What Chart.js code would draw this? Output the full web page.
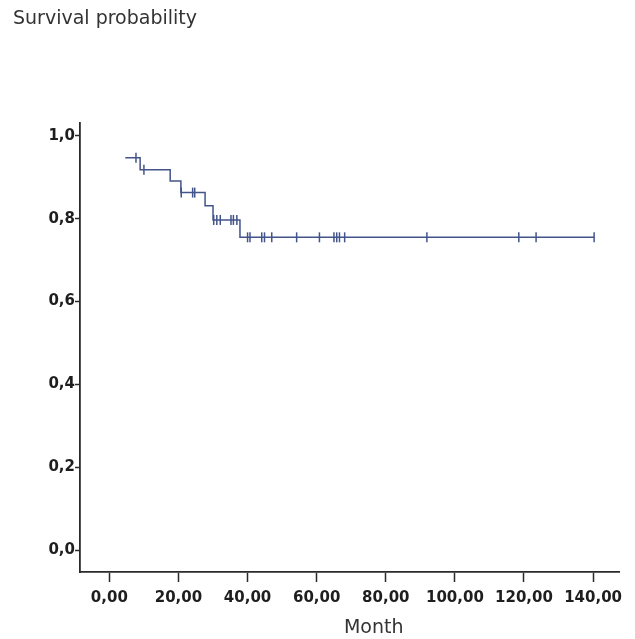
<!DOCTYPE html>
<html>
<head>
<meta charset="utf-8">
<script src="https://cdn.jsdelivr.net/npm/chart.js@4"></script>
<style>
  html, body { margin: 0; padding: 0; background: #fff; }
  #wrap { width: 635px; height: 639px; }
</style>
</head>
<body>
<div id="wrap"><canvas id="kmChart" width="635" height="639"></canvas></div>
<script>
// Kaplan-Meier steps (month of event, survival after it)
const eventMonths = [4.6, 8.9, 17.6, 20.7, 27.7, 30.0, 37.8];
const survival = [0.947, 0.918, 0.891, 0.863, 0.831, 0.797, 0.755];
// censored cases (month)
const censorMonths = [7.7, 10.0, 20.8, 24.1, 24.7, 30.2, 31.1, 32.1, 35.2, 35.9, 36.9,
  40.0, 40.7, 44.1, 44.9, 47.0, 54.2, 60.8, 65.0, 65.8, 66.6, 68.1, 91.9, 118.5, 123.5, 140.3];
const xTicks = [0, 20, 40, 60, 80, 100, 120, 140];
const yTicks = [0, 0.2, 0.4, 0.6, 0.8, 1.0];

// survival level at a given month (step function)
function levelAt(t) {
  let s = survival[0];
  for (let i = 0; i < eventMonths.length; i++) {
    if (eventMonths[i] <= t) s = survival[i];
  }
  return s;
}

const lastMonth = censorMonths[censorMonths.length - 1];
const stepPoints = eventMonths.map((m, i) => ({ x: m, y: survival[i] }));
stepPoints.push({ x: lastMonth, y: levelAt(lastMonth) });
const censorPoints = censorMonths.map((m) => ({ x: m, y: levelAt(m) }));

const lineColor = "#43548a";
const axisColor = "#2a2a2a";
const tickFont = { family: "DejaVu Sans", size: 15, weight: "bold" };

// "Month" label sits a bit right of centre in the original
const monthLabel = {
  id: "monthLabel",
  afterDraw(chart) {
    const c = chart.ctx;
    const a = chart.chartArea;
    c.save();
    c.font = "19px 'DejaVu Sans'";
    c.fillStyle = "#333333";
    c.textAlign = "center";
    c.textBaseline = "alphabetic";
    c.fillText("Month", a.left + a.width * 0.545, 633);
    c.restore();
  },
};

new Chart(document.getElementById("kmChart"), {
  type: "scatter",
  data: {
    datasets: [
      {
        label: "Survival",
        data: stepPoints,
        showLine: true,
        stepped: "before",
        borderColor: lineColor,
        borderWidth: 1.5,
        pointRadius: 0,
        fill: false,
      },
      {
        label: "Censored",
        data: censorPoints,
        showLine: false,
        pointStyle: "line",
        rotation: 90,
        pointRadius: 5,
        pointBorderWidth: 1.5,
        pointBorderColor: lineColor,
        pointBackgroundColor: lineColor,
      },
    ],
  },
  options: {
    responsive: false,
    animation: false,
    layout: { padding: { top: 0, left: 13, right: 16, bottom: 0 } },
    plugins: {
      legend: { display: false },
      tooltip: { enabled: false },
      title: {
        display: true,
        text: "Survival probability",
        align: "start",
        color: "#333333",
        font: { family: "DejaVu Sans", size: 19, weight: "normal" },
        padding: { top: 7.6, bottom: 92.6 },
      },
    },
    scales: {
      x: {
        type: "linear",
        min: -8.5,
        max: 147.5,
        afterBuildTicks: (s) => { s.ticks = xTicks.map((v) => ({ value: v })); },
        afterFit: (s) => { s.height = 67; },
        grid: { drawOnChartArea: false, drawTicks: true, tickLength: 10, tickColor: axisColor, tickWidth: 1.5 },
        border: { display: true, color: axisColor, width: 1.8 },
        ticks: {
          color: "#1e1e1e",
          font: tickFont,
          padding: 7,
          maxRotation: 0,
          callback: (v) => v.toFixed(2).replace(".", ","),
        },
      },
      y: {
        type: "linear",
        min: -0.053,
        max: 1.031,
        afterBuildTicks: (s) => { s.ticks = yTicks.map((v) => ({ value: v })); },
        afterFit: (s) => { s.width = 67; },
        grid: { drawOnChartArea: false, drawTicks: true, tickLength: 5, tickColor: axisColor, tickWidth: 1.5 },
        border: { display: true, color: axisColor, width: 1.8 },
        ticks: {
          color: "#1e1e1e",
          font: tickFont,
          padding: 0,
          callback: (v) => v.toFixed(1).replace(".", ","),
        },
      },
    },
  },
  plugins: [monthLabel],
});
</script>
</body>
</html>
